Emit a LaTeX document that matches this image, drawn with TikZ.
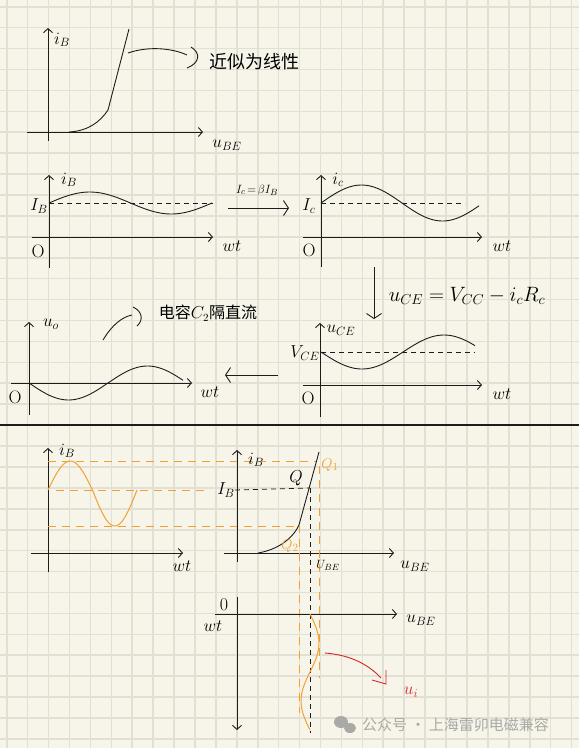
\documentclass[tikz,border=0pt]{standalone}
\usepackage{fontspec}
\usepackage{amsmath}
\usetikzlibrary{arrows.meta}
\newfontfamily\cjkfont{Noto Sans CJK SC}
\definecolor{paper}{HTML}{F7F5EA}
\definecolor{gridc}{HTML}{E1E0D2}
\definecolor{ink}{HTML}{1C1C1C}
\definecolor{amber}{HTML}{F2A033}
\definecolor{redink}{HTML}{D7262B}
\definecolor{wmgrey}{HTML}{A9A9A5}
\tikzset{
	axis/.style={ink, line width=0.9pt, -{Straight Barb[length=4pt,width=9pt]}},
	bigtip/.style={ink, line width=0.9pt, -{Straight Barb[length=5pt,width=15pt]}},
	curve/.style={ink, line width=0.9pt},
	guide/.style={ink, line width=0.8pt, dash pattern=on 5pt off 4pt},
	oguide/.style={amber, line width=0.9pt, dash pattern=on 8pt off 6pt},
	owave/.style={amber, line width=1pt},
	lbl/.style={inner sep=0pt, font=\fontsize{18}{21}\selectfont},
	small/.style={inner sep=0pt, font=\fontsize{13}{15}\selectfont},
	qlbl/.style={inner sep=0pt, amber, font=\fontsize{15}{17}\selectfont},
	cjk/.style={inner sep=0pt, font=\fontsize{18}{20}\selectfont\cjkfont},
}
\begin{document}
\begin{tikzpicture}[x=1pt,y=-1pt]
		\useasboundingbox (0,0) rectangle (579,748);
		\fill[paper] (0,0) rectangle (579,748);
		\foreach \k in {0,...,27}
			\draw[gridc, line width=1.6pt] ({6.7+20.92*\k},0) -- ({6.7+20.92*\k},748);
		\foreach \k in {0,...,35}
			\draw[gridc, line width=1.6pt] (0,{6.7+20.92*\k}) -- (579,{6.7+20.92*\k});
	% input characteristic
		\coordinate (ax1l) at (27,132);
		\coordinate (ax1r) at (203,132);
		\coordinate (ay1b) at (48,141);
		\coordinate (ay1t) at (48,28);
		\draw[axis] (ax1l) -- (ax1r);
		\draw[axis] (ay1b) -- (ay1t);
		\node[lbl] (ib1) at (62,40) {$i_B$};
		\node[lbl] (ube1) at (227,145) {$u_{BE}$};
		\coordinate (lin1) at (128,53);
		\draw[curve] (69,132) .. controls (88,131) and (100,122) .. (108,110) -- (129,29);
		\node[cjk, anchor=west] (linear) at (209,62) {近似为线性};
		\draw[curve] (lin1) .. controls (148,46) and (172,48) .. (187,55);
		\draw[curve] (191,47) .. controls (201,53) and (200,63) .. (187,68);
	% i_B against wt
		\coordinate (ax2l) at (32,237);
		\coordinate (ax2r) at (213,237);
		\coordinate (ay2b) at (49,268);
		\coordinate (ay2t) at (49,175);
		\draw[axis] (ax2l) -- (ax2r);
		\draw[axis] (ay2b) -- (ay2t);
		\draw[guide] (49,203) -- (213,203);
		\draw[curve] plot[domain=0:163, samples=60] ({49+\x},{203-11*sin(\x/163*360)});
		\node[lbl] (ib2) at (69,180) {$i_B$};
		\node[lbl] (IB2) at (39,206) {$I_B$};
		\node[lbl] (o2) at (38,251) {O};
		\node[lbl] (wt2) at (232,246) {$wt$};
		\coordinate (beta1) at (228,208);
		\coordinate (beta2) at (289,208);
		\draw[bigtip] (beta1) -- (beta2);
		\node[small] (beta) at (257,190) {$I_c\!=\!\beta I_B$};
	% i_C against wt
		\coordinate (ax3l) at (303,237);
		\coordinate (ax3r) at (482,237);
		\coordinate (ay3b) at (321,267);
		\coordinate (ay3t) at (321,175);
		\draw[axis] (ax3l) -- (ax3r);
		\draw[axis] (ay3b) -- (ay3t);
		\draw[guide] (321,203) -- (465,203);
		\draw[curve] plot[domain=0:158, samples=60] ({321+\x},{203-18*sin(\x/162*360)});
		\node[lbl] (ic3) at (338,180) {$i_c$};
		\node[lbl] (IC3) at (309,206) {$I_c$};
		\node[lbl] (o3) at (309,250) {O};
		\node[lbl] (wt3) at (502,246) {$wt$};
		\coordinate (down1) at (374,267);
		\coordinate (down2) at (374,319);
		\draw[bigtip] (down1) -- (down2);
		\node[lbl, font=\fontsize{20}{23}\selectfont] (uce) at (467,296) {$u_{CE} = V_{CC} - i_cR_c$};
	% u_CE against wt
		\coordinate (ax4l) at (303,385);
		\coordinate (ax4r) at (482,385);
		\coordinate (ay4b) at (320,417);
		\coordinate (ay4t) at (320,323);
		\draw[axis] (ax4l) -- (ax4r);
		\draw[axis] (ay4b) -- (ay4t);
		\draw[guide] (321,352) -- (475,352);
		\draw[curve] plot[domain=0:154, samples=60] ({321+\x},{352+17*sin(\x/164*360)});
		\node[lbl] (uce4) at (341,330) {$u_{CE}$};
		\node[lbl] (VCE4) at (305,353) {$V_{CE}$};
		\node[lbl] (o4) at (308,398) {O};
		\node[lbl] (wt4) at (502,394) {$wt$};
		\coordinate (left1) at (278,375);
		\coordinate (left2) at (225,375);
		\draw[bigtip] (left1) -- (left2);
	% u_o against wt
		\coordinate (ax5l) at (11,383);
		\coordinate (ax5r) at (192,383);
		\coordinate (ay5b) at (29,415);
		\coordinate (ay5t) at (29,322);
		\draw[axis] (ax5l) -- (ax5r);
		\draw[axis] (ay5b) -- (ay5t);
		\draw[guide] (29,383) -- (185,383);
		\draw[curve] plot[domain=0:154, samples=60] ({29+\x},{383+17*sin(\x/158*360)});
		\node[lbl] (uo5) at (51,324) {$u_o$};
		\node[lbl] (o5) at (15,397) {O};
		\node[lbl] (wt5) at (210,392) {$wt$};
		\node[cjk, font=\fontsize{16}{18}\selectfont\cjkfont] (cap) at (208,313) {电容$C_2$隔直流};
		\coordinate (cap1) at (103,340);
		\draw[curve] (cap1) .. controls (112,325) and (122,317) .. (132,315);
		\draw[curve] (133,307) .. controls (142,311) and (144,320) .. (137,326);
		\draw[ink, line width=1.2pt] (0,425) -- (579,425);
	% i_B input
		\coordinate (ax6l) at (31,553);
		\coordinate (ax6r) at (183,553);
		\coordinate (ay6b) at (48,572);
		\coordinate (ay6t) at (48,448);
		\draw[axis] (ax6l) -- (ax6r);
		\draw[axis] (ay6b) -- (ay6t);
		\node[lbl] (ib6) at (67,451) {$i_B$};
		\node[lbl] (wt6) at (182,566) {$wt$};
		\draw[oguide] (48,461) -- (316,461);
		\draw[oguide] (56,490) -- (210,490);
		\draw[oguide] (48,526) -- (299,526);
		\draw[owave] plot[domain=0:44.5, samples=30] ({48+\x},{490-29*sin(\x/89*360)});
		\draw[owave] plot[domain=44.5:89, samples=30] ({48+\x},{490-36*sin(\x/89*360)});
	% operating point Q
		\coordinate (ax7l) at (224,553);
		\coordinate (ax7r) at (394,553);
		\coordinate (ay7b) at (237,562);
		\coordinate (ay7t) at (237,450);
		\draw[axis] (ax7l) -- (ax7r);
		\draw[axis] (ay7b) -- (ay7t);
		\coordinate (Q) at (310,488);
		\coordinate (Q1) at (317,461);
		\coordinate (Q2) at (299,525);
		\draw[curve] (258,553) .. controls (276,550) and (292,540) .. (Q2) -- (319,452);
		\node[lbl] (IB7) at (226,490) {$I_B$};
		\node[lbl] (ib7) at (256,460) {$i_B$};
		\draw[guide] (IB7.east) -- (Q);
		\draw[guide] (Q) -- (310,733);
		\draw[oguide] (319,466) -- (319,678);
		\draw[oguide] (Q2) -- (299,713);
		\node[lbl] (q) at (296,478) {$Q$};
		\node[qlbl] (q1) at (330,465) {$Q_1$};
		\node[qlbl] (q2) at (290,546) {$Q_2$};
		\node[small] (UBE7) at (328,565) {$U_{BE}$};
		\node[lbl] (ube7) at (415,566) {$u_{BE}$};
	% u_BE against wt
		\coordinate (ax8l) at (215,614);
		\coordinate (ax8r) at (397,614);
		\coordinate (ay8t) at (237,597);
		\coordinate (ay8b) at (237,730);
		\draw[axis] (ax8l) -- (ax8r);
		\draw[axis] (ay8t) -- (ay8b);
		\node[lbl] (o8) at (224,605) {0};
		\node[lbl] (wt8) at (213,626) {$wt$};
		\node[lbl] (ube8) at (421,620) {$u_{BE}$};
		\draw[owave] plot[domain=0:116, samples=50] ({310+9*sin(\x/116*360)},{614+\x});
		\coordinate (ui1) at (325,653);
		\coordinate (ui2) at (386,684);
		\draw[redink, line width=0.9pt] (ui1) .. controls (350,655) and (368,664) .. (381,678);
		\draw[redink, line width=0.9pt] (372,680) -- (ui2) -- (386,670);
		\node[lbl, redink] (ui) at (411,692) {$u_i$};
	% watermark
		\fill[wmgrey] (341,722) ellipse (7 and 6);
		\fill[wmgrey] (350,728) ellipse (6 and 5);
		\node[inner sep=0pt, anchor=west, wmgrey, font=\fontsize{15}{17}\selectfont\cjkfont] (wm) at (362,725) {公众号 · 上海雷卯电磁兼容};
	\end{tikzpicture}
\end{document}
